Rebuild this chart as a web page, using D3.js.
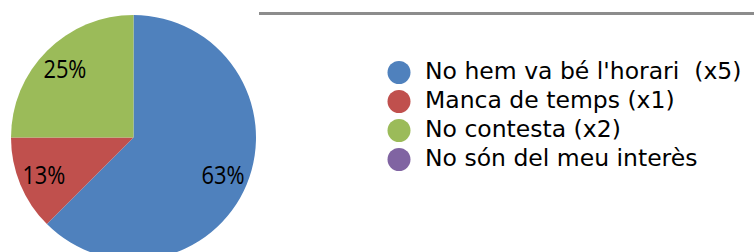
<!DOCTYPE html>
<html>
<head>
<meta charset="utf-8">
<script src="https://cdn.jsdelivr.net/npm/d3@7"></script>
<style>
  html, body { margin: 0; padding: 0; background: #fff; }
  svg { display: block; font-family: "DejaVu Sans", sans-serif; }
</style>
</head>
<body>
<svg id="chart" width="754" height="252"></svg>
<script>
// survey answers
var categories = ["No hem va bé l'horari  (x5)", "Manca de temps (x1)", "No contesta (x2)", "No són del meu interès"];
var counts = [5, 1, 2, 0];
var colors = ["#4F81BD", "#C0504D", "#9BBB59", "#8064A2"];

var width = 754, height = 252;
var cx = 133.5, cy = 137.5, radius = 122.5;

var svg = d3.select("#chart");

// gray rule at the top right
svg.append("line")
  .attr("x1", 259).attr("x2", width)
  .attr("y1", 13.5).attr("y2", 13.5)
  .attr("stroke", "#8c8c8c")
  .attr("stroke-width", 3);

var total = d3.sum(counts);
var pie = d3.pie().sort(null).value(function(d) { return d; });
var arcs = pie(counts);

var arc = d3.arc().innerRadius(0).outerRadius(radius);
var labelArc = d3.arc().innerRadius(97).outerRadius(97);

var g = svg.append("g").attr("transform", "translate(" + cx + "," + cy + ")");

g.selectAll("path")
  .data(arcs)
  .enter()
  .append("path")
  .attr("d", arc)
  .attr("fill", function(d, i) { return colors[i]; });

// percent labels
g.selectAll("text")
  .data(arcs.filter(function(d) { return d.value > 0; }))
  .enter()
  .append("text")
  .attr("transform", function(d) { return "translate(" + labelArc.centroid(d) + ")"; })
  .attr("text-anchor", "middle")
  .attr("dy", "0.36em")
  .attr("font-family", "'Open Sans', sans-serif")
  .attr("font-size", 25)
  .attr("textLength", 43)
  .attr("lengthAdjust", "spacingAndGlyphs")
  .attr("fill", "#000")
  .text(function(d) { return Math.round(d.value / total * 100) + "%"; });

// legend
var legend = svg.append("g").attr("transform", "translate(399,72.5)");
var rows = legend.selectAll("g")
  .data(categories)
  .enter()
  .append("g")
  .attr("transform", function(d, i) { return "translate(0," + (i * 29) + ")"; });

rows.append("circle")
  .attr("r", 11.5)
  .attr("fill", function(d, i) { return colors[i]; });

rows.append("text")
  .attr("x", 26)
  .attr("dy", 6)
  .attr("font-size", 23.5)
  .attr("fill", "#000")
  .style("white-space", "pre")
  .text(function(d) { return d; });
</script>
</body>
</html>
